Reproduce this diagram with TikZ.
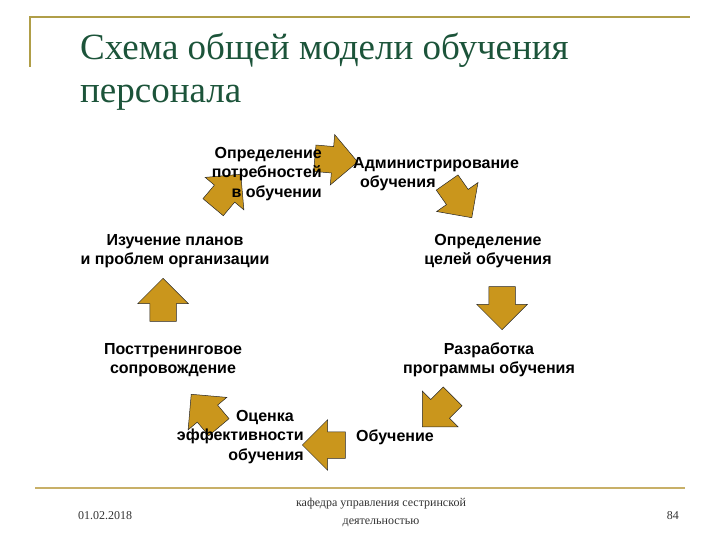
\documentclass[tikz,border=0pt]{standalone}
\usepackage{fontspec}
\setmainfont{Liberation Serif}
\setsansfont{Liberation Sans}
\usetikzlibrary{shapes.arrows,positioning}

\definecolor{arrowgold}{RGB}{202,150,28}
\definecolor{titlegreen}{RGB}{28,84,58}
\definecolor{framegold}{RGB}{176,158,72}
\definecolor{footgold}{RGB}{200,176,104}
\definecolor{footgray}{RGB}{50,50,50}

\tikzset{
  stage/.style={font=\sffamily\bfseries\fontsize{16}{19.5}\selectfont, inner sep=0pt, align=center},
  blockarrow/.style={single arrow, draw=black!85, fill=arrowgold, line width=0.5pt,
    inner xsep=0pt, inner ysep=13pt, single arrow head extend=12pt,
    minimum height=43pt, anchor=tip},
  foot/.style={font=\fontsize{12}{18}\selectfont, text=footgray, inner sep=0pt, align=center}
}

\begin{document}
\begin{tikzpicture}[x=1pt,y=-1pt]
			\useasboundingbox (0,0) rectangle (720,540);
			% frame lines
			\draw[framegold, line width=2pt] (30,67) -- (30,17) -- (690,17);
			\draw[footgold, line width=2.5pt] (35,488) -- (685,488);

			\node (title) [anchor=base west, inner sep=0pt, text=titlegreen,
			  font=\fontsize{37}{43}\selectfont] at (80,60) {Схема общей модели обучения};
			\node (title2) [anchor=base west, inner sep=0pt, text=titlegreen,
			  font=\fontsize{37}{43}\selectfont] at (80,103) {персонала};

			% arrows
			\node (a1) [blockarrow, rotate=50] at (241,174) {};
			\node (a2) [blockarrow, rotate=-5] at (358,162) {};
			\node (a3) [blockarrow, rotate=-55] at (472,218) {};
			\node (a4) [blockarrow, rotate=-90] at (502,330) {};
			\node (a5) [blockarrow, rotate=-135] at (422,427) {};
			\node (a6) [blockarrow, rotate=180] at (302,445) {};
			\node (a7) [blockarrow, rotate=130] at (191,394) {};
			\node (a8) [blockarrow, rotate=90] at (163,278) {};

			% stages
			\node (need) [stage, align=right, anchor=east] at (322,174) {Определение\\потребностей\\в обучении};
			\node (admin) [stage, align=left, anchor=west] at (353,174) {Администрирование\\\hspace*{7pt}обучения};
			\node (goals) [stage] at (488,251) {Определение\\целей обучения};
			\node (prog) [stage] at (489,360) {Разработка\\программы обучения};
			\node (teach) [stage, anchor=west] at (356,437) {Обучение};
			\node (eval) [stage, align=right, anchor=east] at (304,437) {Оценка\hspace*{10pt}\\эффективности\\обучения};
			\node (post) [stage] at (173,360) {Посттренинговое\\сопровождение};
			\node (plans) [stage] at (175,251) {Изучение планов\\и проблем организации};

			% footer
			\node (date) [foot, anchor=west] at (78,516) {01.02.2018};
			\node (dept) [foot] at (381,512) {кафедра управления сестринской\\деятельностью};
			\node (page) [foot, anchor=east] at (679,516) {84};
\end{tikzpicture}
\end{document}
